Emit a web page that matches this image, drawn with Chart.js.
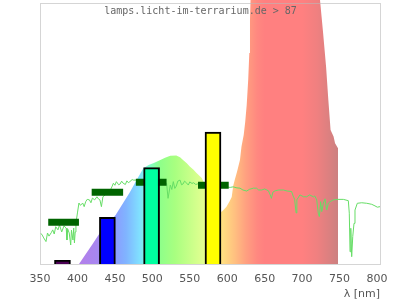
<!DOCTYPE html>
<html>
<head>
<meta charset="utf-8">
<script src="https://cdn.jsdelivr.net/npm/chart.js@4.4.1/dist/chart.umd.min.js"></script>
<style>
  html, body { margin: 0; padding: 0; background: #fff; }
</style>
</head>
<body>
<canvas id="chartSpectrum" width="400" height="300"></canvas>
<script>
// titel + achse
const titleText = 'lamps.licht-im-terrarium.de > 87';
const xTicks = [350, 400, 450, 500, 550, 600, 650, 700, 750, 800];

// lampenspektrum (relativ)
const lampNm = [402, 410, 420, 429, 440, 451, 461, 470, 479, 488, 495, 502, 510, 517, 524, 532, 537, 541, 546, 550,
  555, 559, 566, 570, 575, 580, 585, 589, 593, 599, 603, 606, 608, 610, 613, 617, 619, 622, 624, 626,
  628, 629.5, 630.4, 632, 640, 660, 690, 715, 724, 726, 728, 732, 735, 738, 742, 744, 748];
const lampVal = [0, 3.4, 7.6, 11.5, 15.2, 18.8, 23.4, 27.5, 32.2, 36.7, 38.0, 38.8, 39.8, 40.8, 41.5, 41.6, 41.0, 39.9, 38.7, 37.4,
  36.2, 34.9, 33.0, 30.5, 27.0, 23.5, 21.0, 19.8, 20.1, 22.0, 24.0, 25.7, 30.0, 32.2, 35.3, 39.9, 45.0, 49.5, 54.5, 61.0,
  70.6, 81.0, 93.7, 110, 150, 190, 180, 140, 101, 94.9, 88.7, 75.7, 63.0, 51.4, 48.9, 46.3, 44.4];

// sonnenspektrum (vergleich)
const sunNm = [351, 353, 355, 358, 360, 362, 365, 367, 369, 371, 374, 376, 379, 382, 385, 386, 387, 389, 391, 392,
  394, 395, 396, 397, 398, 400, 402, 404, 407, 409, 411, 413, 416, 418, 420, 423, 426, 428, 430, 432,
  434, 437, 440, 442, 444, 446, 448, 450, 452, 455, 457, 459, 461, 464, 466, 468, 470, 473, 475, 479,
  486, 490, 500, 510, 516, 519, 521, 524, 526, 528, 530, 532, 534, 537, 539, 541, 543, 546, 548, 550,
  553, 555, 558, 560, 564, 575, 589, 600, 604, 608, 613, 617, 621, 626, 630, 635, 639, 642, 646, 650,
  655, 658, 659, 661, 664, 669, 675, 680, 686, 688, 690, 692, 693, 697, 702, 706, 710, 715, 717, 719.5,
  721.6, 723, 724.8, 726.2, 728.3, 730.6, 732.8, 735, 737.2, 741.6, 748, 755, 761.7, 763, 764, 765, 766.2, 767.6, 769.3, 770.6,
  773.7, 779.6, 786.3, 793, 797.3, 800.4, 804];
const sunVal = [11.8, 11.1, 10.0, 8.6, 11.9, 10.7, 12.0, 13.1, 11.5, 14.3, 13.1, 15.0, 12.3, 14.6, 13.8, 9.2, 13.4, 11.9, 7.3, 13.0,
  9.2, 13.8, 8.1, 12.3, 15.7, 19.6, 23.4, 22.5, 23.4, 22.0, 23.9, 24.8, 24.6, 23.5, 25.3, 24.6, 25.8, 25.0, 24.6, 22.0,
  25.8, 26.5, 27.6, 27.0, 28.4, 29.6, 31.0, 30.2, 31.6, 30.4, 30.7, 31.8, 31.0, 30.5, 31.9, 31.2, 31.6, 32.4, 32.2, 32.2,
  30.5, 31.5, 31.5, 31.0, 31.3, 31.0, 25.2, 30.3, 28.6, 31.6, 29.0, 29.9, 31.8, 32.2, 30.4, 30.7, 31.8, 31.0, 30.3, 31.5,
  30.9, 31.2, 30.5, 30.7, 31.0, 30.5, 29.5, 29.5, 29.4, 29.6, 29.2, 29.1, 28.4, 28.0, 28.7, 29.1, 29.1, 28.4, 28.4, 28.8,
  28.1, 26.1, 25.2, 27.6, 28.1, 28.4, 28.4, 28.0, 27.8, 26.1, 24.8, 19.6, 24.6, 26.5, 25.8, 25.8, 26.5, 25.8, 26.1, 24.6,
  19.5, 18.2, 23.9, 20.1, 23.3, 25.0, 20.7, 23.3, 23.9, 24.6, 24.8, 24.8, 24.3, 19.5, 4.7, 13.7, 2.8, 10.5, 15.6, 20.7,
  23.3, 23.5, 23.3, 22.9, 22.3, 21.8, 22.0];

// mittelwerte je band (dunkelgruene balken)
const bandStart = [361, 419, 478, 561];
const bandEnd = [402, 461, 519, 602];
const bandVal = [16.0, 27.5, 31.4, 30.2];

// zapfen-anregung (farbige saeulen)
const coneNm = [380, 440, 499, 581];
const coneVal = [1.4, 17.9, 37.0, 50.6];
const coneColors = ['#4b0055', '#0000ff', '#00ffa0', '#ffff00'];

// farbverlauf fuer das spektrum
const rainbowStops = [
  [400, '#b47ee8'], [425, '#a886f0'], [450, '#8a9cff'], [465, '#80b4ff'], [483, '#80e0ff'],
  [495, '#80ffd0'], [510, '#8eff8a'], [530, '#a8ff80'], [567, '#e0ff90'], [580, '#f4ff88'],
  [593, '#ffe080'], [610, '#ffc080'], [625, '#ffa080'], [640, '#ff8880'], [650, '#ff8080'],
  [700, '#ff8080'], [720, '#f08080'], [748, '#cc8080']
];

function rainbowFill(context) {
  const chart = context.chart;
  const { ctx, chartArea, scales } = chart;
  if (!chartArea) return '#ff8080';
  const x0 = scales.x.getPixelForValue(400);
  const x1 = scales.x.getPixelForValue(748);
  const g = ctx.createLinearGradient(x0, 0, x1, 0);
  rainbowStops.forEach(([nm, col]) => g.addColorStop((nm - 400) / 348, col));
  return g;
}

const bandData = [];
bandStart.forEach((s, i) => {
  bandData.push({ x: s, y: bandVal[i] });
  bandData.push({ x: bandEnd[i], y: bandVal[i] });
  bandData.push({ x: bandEnd[i] + 1, y: null });
});

const framePlugin = {
  id: 'frame',
  afterDatasetsDraw(chart) {
    const { ctx, chartArea } = chart;
    const l = Math.round(chartArea.left) + 0.5;
    const r = Math.round(chartArea.right) + 0.5;
    const b = Math.round(chartArea.bottom) + 0.5;
    ctx.save();
    ctx.strokeStyle = 'rgba(185,185,185,0.6)';
    ctx.lineWidth = 1;
    ctx.strokeRect(l, 3.5, r - l, b - 3.5);
    ctx.restore();
  },
  afterDraw(chart) {
    const ctx = chart.ctx;
    ctx.save();
    ctx.font = '10px "DejaVu Sans Mono"';
    ctx.fillStyle = '#666';
    ctx.textAlign = 'center';
    ctx.textBaseline = 'alphabetic';
    ctx.fillText(titleText, 200.5, 14);
    ctx.restore();
  }
};

new Chart(document.getElementById('chartSpectrum'), {
  type: 'line',
  data: {
    datasets: [
      {
        type: 'bar',
        data: coneNm.map((nm, i) => ({ x: nm, y: coneVal[i] })),
        backgroundColor: coneColors,
        borderColor: '#000',
        borderWidth: 2,
        borderSkipped: 'bottom',
        barThickness: 16,
        order: 0
      },
      {
        data: bandData,
        borderColor: '#006400',
        borderWidth: 7,
        borderCapStyle: 'butt',
        pointRadius: 0,
        spanGaps: false,
        fill: false,
        order: 1
      },
      {
        data: sunNm.map((nm, i) => ({ x: nm, y: sunVal[i] })),
        borderColor: '#66dd66',
        borderWidth: 1,
        pointRadius: 0,
        tension: 0,
        fill: false,
        order: 2
      },
      {
        data: lampNm.map((nm, i) => ({ x: nm, y: lampVal[i] })),
        borderWidth: 0,
        borderColor: 'rgba(0,0,0,0)',
        backgroundColor: rainbowFill,
        pointRadius: 0,
        tension: 0,
        fill: 'origin',
        order: 3
      }
    ]
  },
  options: {
    responsive: false,
    animation: false,
    devicePixelRatio: 1,
    layout: { padding: { left: 40, right: 20, top: 0, bottom: 0 } },
    plugins: {
      legend: { display: false },
      tooltip: { enabled: false }
    },
    scales: {
      x: {
        type: 'linear',
        offset: false,
        min: 350,
        max: 804,
        afterBuildTicks: scale => { scale.ticks = xTicks.map(v => ({ value: v })); },
        afterFit: scale => {
          scale.height = 36;
          scale.paddingLeft = 0;
          scale.paddingRight = 0;
        },
        grid: { display: false, drawTicks: false, offset: false },
        border: { display: false },
        ticks: {
          color: '#555',
          font: { family: 'DejaVu Sans', size: 11 },
          padding: 9,
          maxRotation: 0,
          autoSkip: false
        },
        title: {
          display: true,
          text: 'λ [nm]',
          align: 'end',
          color: '#555',
          font: { family: 'DejaVu Sans', size: 11, lineHeight: 1 },
          padding: { top: 5, bottom: 0 }
        }
      },
      y: {
        display: false,
        min: 0,
        max: 101.3
      }
    }
  },
  plugins: [framePlugin]
});
</script>
</body>
</html>
